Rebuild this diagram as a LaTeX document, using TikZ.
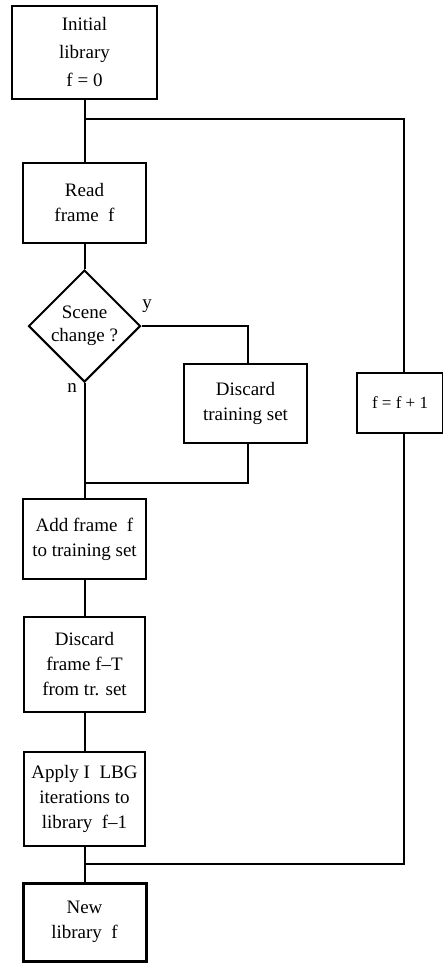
\documentclass[tikz,border=0pt]{standalone}
\usepackage{fontspec}
\setmainfont{Liberation Serif}
\usetikzlibrary{shapes.geometric}
\begin{document}
\begin{tikzpicture}[x=1pt,y=-1pt,
  every node/.style={font=\fontsize{19}{25}\selectfont, align=center, inner sep=0pt},
  box/.style={draw, line width=2pt, rectangle},
  decision/.style={draw, line width=2pt, diamond, aspect=1, minimum size=112pt},
  wire/.style={line width=2pt}]
\useasboundingbox (0,0) rectangle (443,963);

% process blocks
\node[box, minimum width=145pt, minimum height=93pt] (init) at (84.5,52.5)
  {Initial\\[3pt] library\\[3pt] f = 0};
\node[box, minimum width=123pt, minimum height=80pt] (read) at (84.5,203) {Read\\ frame~ f};
\node[decision] (scene) at (84.5,326) {Scene\\[-2pt] change ?};
\node[box, minimum width=123pt, minimum height=79pt] (discts) at (245.5,403.5) {Discard\\ training set};
\node[box, minimum width=86pt, minimum height=60pt, font=\fontsize{17}{22}\selectfont] (inc) at (400,403) {f = f + 1};
\node[box, minimum width=123pt, minimum height=80pt] (add) at (84.5,539) {Add frame~ f\\ to training set};
\node[box, minimum width=121pt, minimum height=95pt] (discf) at (84.5,664.5) {Discard\\ frame f--T\\ from tr. set};
\node[box, minimum width=121pt, minimum height=94pt] (apply) at (84.5,799) {Apply I~ LBG\\ iterations to\\ library~ f--1};
\node[draw, line width=3pt, minimum width=123pt, minimum height=78pt] (newlib) at (84.5,922) {New\\ library~ f};

% branch labels
\node (ylab) at (147,306) {y};
\node (nlab) at (72,388) {n};

% junctions on the main line and the loop column
\coordinate (j1) at (84.5,119);
\coordinate (j2) at (84.5,483);
\coordinate (j3) at (84.5,864);
\coordinate (rx) at (404,0);
\coordinate (dx) at (248,0);

% main flow
\draw[wire] (init.south) -- (j1) -- (read.north);
\draw[wire] (read.south) -- (scene.north);
\draw[wire] (scene.south) -- (j2) -- (add.north);
\draw[wire] (add.south) -- (discf.north);
\draw[wire] (discf.south) -- (apply.north);
\draw[wire] (apply.south) -- (j3) -- (newlib.north);

% scene-change branch
\draw[wire] (scene.east) -- (scene.east -| dx) -- (dx |- discts.north);
\draw[wire] (dx |- discts.south) -- (j2 -| dx) -- (j2);

% frame loop
\draw[wire] (j1) -- (j1 -| rx) -- (rx |- inc.north);
\draw[wire] (rx |- inc.south) -- (j3 -| rx) -- (j3);
\end{tikzpicture}
\end{document}
